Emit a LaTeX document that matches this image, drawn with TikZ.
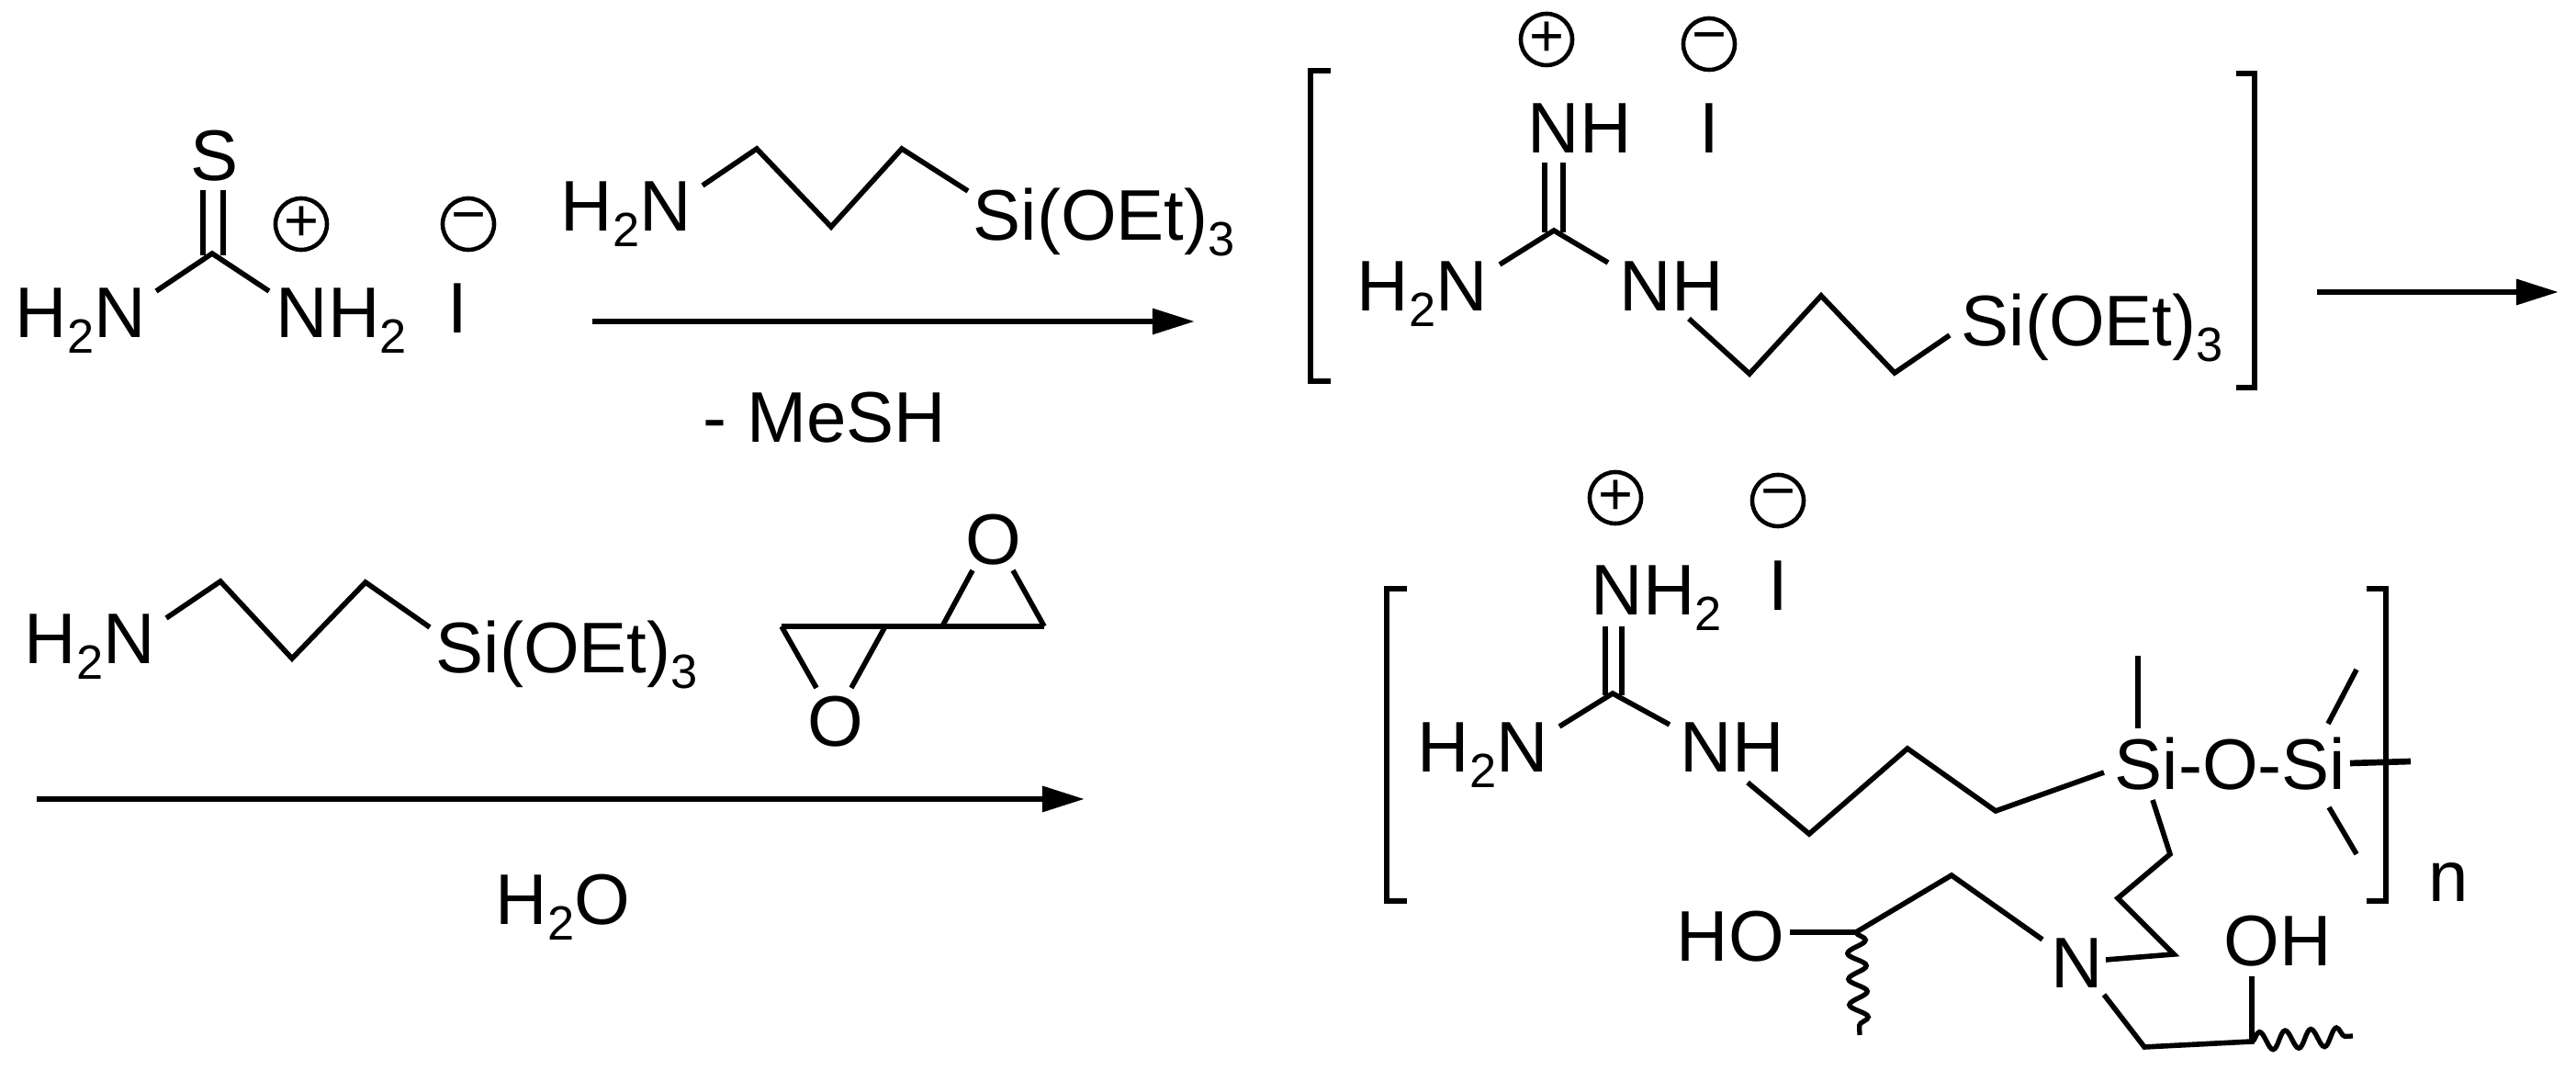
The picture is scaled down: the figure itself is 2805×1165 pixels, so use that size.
\documentclass[tikz,border=0pt]{standalone}
\usepackage{fontspec}
\setmainfont{Liberation Sans}
\usepackage{tikz}
\usetikzlibrary{arrows.meta}
\usetikzlibrary{decorations.pathmorphing}
\newcommand{\chemsub}[1]{\raisebox{-0.21em}{\fontsize{14.9pt}{15pt}\selectfont #1}}
\newcommand{\silane}{Si(OEt)\chemsub{3}}
\tikzset{
  atom/.style={anchor=base west,inner sep=0pt,font=\fontsize{22.2pt}{24pt}\selectfont},
  charge/.style={draw,circle,line width=1.3pt,minimum size=0.56cm,inner sep=0pt,font=\fontsize{18.5pt}{19pt}\selectfont},
  bond/.style={line width=1.6pt},
  brack/.style={line width=1.7pt},
  rxn/.style={line width=1.8pt,-{Triangle[length=0.46cm,width=0.27cm]}},
  wavy/.style={line width=1.5pt,decorate,decoration={snake,segment length=0.28cm,amplitude=0.1cm}}
}
\begin{document}
\begin{tikzpicture}[x=0.01cm,y=-0.01cm]
      \useasboundingbox (0,0) rectangle (2805,1165);
      \node[atom] (sA) at (207,197) {S};
      \node[atom] (nhA) at (16,368) {H\chemsub{2}N};
      \node[atom] (nhB) at (300,368) {NH\chemsub{2}};
      \node[atom] (iA) at (487,363) {I};
      \node[charge] (plusA) at (328,244) {+};
      \node[charge] (minusA) at (510,244) {−};
      \coordinate (cA) at (231,276);
      \coordinate (cAl) at (170,317);
      \coordinate (cAr) at (293,317);
      \coordinate (dA1) at (221,207);
      \coordinate (dA2) at (221,278);
      \coordinate (dA3) at (243,207);
      \coordinate (dA4) at (243,278);
      \draw[bond] (dA1) -- (dA2);
      \draw[bond] (dA3) -- (dA4);
      \draw[bond] (cAl) -- (cA) -- (cAr);

      \node[atom] (nhC) at (610,252) {H\chemsub{2}N};
      \node[atom] (siA) at (1059,262) {\silane};
      \coordinate (eA1) at (765,202);
      \coordinate (eA2) at (824,162);
      \coordinate (eA3) at (905,247);
      \coordinate (eA4) at (982,162);
      \coordinate (eA5) at (1054,208);
      \draw[bond] (eA1) -- (eA2) -- (eA3) -- (eA4) -- (eA5);
      \coordinate (rA1) at (645,350);
      \coordinate (rA2) at (1301,350);
      \draw[rxn] (rA1) -- (rA2);
      \node[atom] (mesh) at (765,482) {- MeSH};

      \draw[brack] (1449,77) -- (1427,77) -- (1427,415) -- (1449,415);
      \draw[brack] (2435,80) -- (2455,80) -- (2455,422) -- (2435,422);
      \node[charge] (plusB) at (1684,43) {+};
      \node[charge] (minusB) at (1861,48) {−};
      \node[atom] (nhD) at (1663,167) {NH};
      \node[atom] (iB) at (1850,167) {I};
      \node[atom] (nhE) at (1477,339) {H\chemsub{2}N};
      \node[atom] (nhF) at (1763,339) {NH};
      \node[atom] (siB) at (2135,377) {\silane};
      \coordinate (cB) at (1692,251);
      \coordinate (cBl) at (1633,288);
      \coordinate (cBr) at (1751,286);
      \coordinate (dB1) at (1682,177);
      \coordinate (dB2) at (1682,253);
      \coordinate (dB3) at (1702,177);
      \coordinate (dB4) at (1702,253);
      \draw[bond] (dB1) -- (dB2);
      \draw[bond] (dB3) -- (dB4);
      \draw[bond] (cBl) -- (cB) -- (cBr);
      \coordinate (eB1) at (1839,347);
      \coordinate (eB2) at (1905,407);
      \coordinate (eB3) at (1983,322);
      \coordinate (eB4) at (2063,406);
      \coordinate (eB5) at (2123,365);
      \draw[bond] (eB1) -- (eB2) -- (eB3) -- (eB4) -- (eB5);
      \coordinate (rB1) at (2523,318);
      \coordinate (rB2) at (2786,318);
      \draw[rxn] (rB1) -- (rB2);

      \node[atom] (nhG) at (26,723) {H\chemsub{2}N};
      \node[atom] (siC) at (474,733) {\silane};
      \coordinate (eC1) at (181,673);
      \coordinate (eC2) at (240,633);
      \coordinate (eC3) at (318,717);
      \coordinate (eC4) at (398,634);
      \coordinate (eC5) at (468,683);
      \draw[bond] (eC1) -- (eC2) -- (eC3) -- (eC4) -- (eC5);
      \node[atom] (oxA) at (879,813) {O};
      \node[atom] (oxB) at (1051,615) {O};
      \coordinate (pA1) at (851,682);
      \coordinate (pA2) at (964,682);
      \coordinate (pA3) at (1026,682);
      \coordinate (pA4) at (1137,682);
      \coordinate (pA5) at (889,749);
      \coordinate (pA6) at (927,749);
      \coordinate (pA7) at (1059,621);
      \coordinate (pA8) at (1103,621);
      \draw[bond,line width=1.9pt] (pA1) -- (pA4);
      \draw[bond] (pA1) -- (pA5);
      \draw[bond] (pA2) -- (pA6);
      \draw[bond] (pA3) -- (pA7);
      \draw[bond] (pA4) -- (pA8);
      \coordinate (rC1) at (40,870);
      \coordinate (rC2) at (1181,870);
      \draw[rxn] (rC1) -- (rC2);
      \node[atom] (water) at (539,1007) {H\chemsub{2}O};

      \draw[brack] (1532,641) -- (1510,641) -- (1510,981) -- (1532,981);
      \draw[brack] (2577,641) -- (2598,641) -- (2598,981) -- (2577,981);
      \node[charge] (plusC) at (1759,542) {+};
      \node[charge] (minusC) at (1936,545) {−};
      \node[atom] (nhH) at (1732,670) {NH\chemsub{2}};
      \node[atom] (iC) at (1925,665) {I};
      \node[atom] (nhI) at (1543,841) {H\chemsub{2}N};
      \node[atom] (nhJ) at (1829,841) {NH};
      \node[atom] (siD) at (2302,860) {Si-O-Si};
      \node[atom] (nA) at (2233,1076) {N};
      \node[atom] (hoA) at (1825,1047) {HO};
      \node[atom] (hoB) at (2421,1052) {OH};
      \node[atom] (nn) at (2644,982) {n};
      \coordinate (cC) at (1756,755);
      \coordinate (cCl) at (1698,791);
      \coordinate (cCr) at (1818,789);
      \coordinate (dC1) at (1748,682);
      \coordinate (dC2) at (1748,757);
      \coordinate (dC3) at (1766,682);
      \coordinate (dC4) at (1766,757);
      \draw[bond] (dC1) -- (dC2);
      \draw[bond] (dC3) -- (dC4);
      \draw[bond] (cCl) -- (cC) -- (cCr);
      \coordinate (eD1) at (1903,852);
      \coordinate (eD2) at (1970,908);
      \coordinate (eD3) at (2077,815);
      \coordinate (eD4) at (2173,883);
      \coordinate (eD5) at (2291,841);
      \draw[bond] (eD1) -- (eD2) -- (eD3) -- (eD4) -- (eD5);
      \coordinate (sU1) at (2328,714);
      \coordinate (sU2) at (2328,793);
      \coordinate (sU3) at (2566,729);
      \coordinate (sU4) at (2535,788);
      \coordinate (sU5) at (2536,879);
      \coordinate (sU6) at (2566,930);
      \coordinate (sU7) at (2559,831);
      \coordinate (sU8) at (2625,829);
      \draw[bond] (sU1) -- (sU2);
      \draw[bond] (sU3) -- (sU4);
      \draw[bond] (sU5) -- (sU6);
      \draw[bond,line width=1.9pt] (sU7) -- (sU8);
      \coordinate (fA1) at (2344,871);
      \coordinate (fA2) at (2363,930);
      \coordinate (fA3) at (2306,978);
      \coordinate (fA4) at (2367,1039);
      \coordinate (fA5) at (2293,1045);
      \draw[bond] (fA1) -- (fA2) -- (fA3) -- (fA4) -- (fA5);
      \coordinate (gA1) at (2224,1023);
      \coordinate (gA2) at (2125,953);
      \coordinate (gA3) at (2021,1015);
      \coordinate (gA4) at (1949,1015);
      \draw[bond] (gA1) -- (gA2) -- (gA3) -- (gA4);
      \coordinate (gB1) at (2291,1083);
      \coordinate (gB2) at (2335,1140);
      \coordinate (gB3) at (2452,1134);
      \coordinate (gB4) at (2452,1063);
      \draw[bond] (gB1) -- (gB2) -- (gB3) -- (gB4);
      \coordinate (wA) at (2025,1127);
      \coordinate (wB) at (2562,1128);
      \draw[wavy] (gA3) -- (wA);
      \draw[wavy] (gB3) -- (wB);
    \end{tikzpicture}
\end{document}
